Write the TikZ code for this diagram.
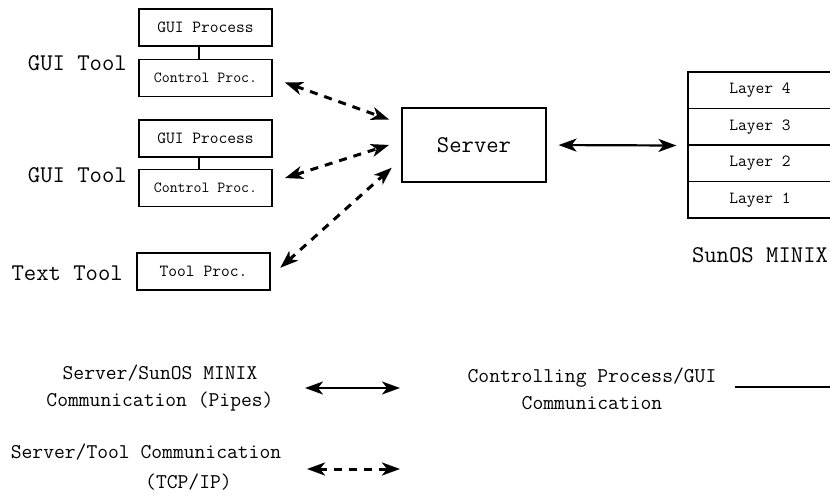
\documentclass[tikz,border=0pt]{standalone}
\usepackage{fontspec}
\usetikzlibrary{arrows.meta}

\tikzset{
  procbox/.style={draw, line width=1.1pt, minimum width=133pt, minimum height=37pt, inner sep=0pt, font=\ttfamily\fontsize{17}{20}\selectfont},
  layerbox/.style={draw, line width=1.1pt, minimum width=144pt, minimum height=36.5pt, inner sep=0pt, font=\ttfamily\fontsize{17}{20}\selectfont},
  toollabel/.style={anchor=east, inner sep=0pt, font=\ttfamily\fontsize{24}{28}\selectfont},
  legend/.style={align=center, inner sep=0pt, font=\ttfamily\fontsize{21}{27}\selectfont},
  tcp/.style={<->, line width=3pt, dash pattern=on 8pt off 7pt, shorten >=13pt, shorten <=13pt},
  pipe/.style={<->, line width=2.2pt},
}

\begin{document}
\begin{tikzpicture}[x=1pt, y=-1pt, >={Stealth[length=18pt,width=13pt,inset=5pt]}]
    \useasboundingbox (0,0) rectangle (830,497);

    % Tools and their processes
    \node[procbox] (gui1) at (205.5,27.5) {GUI Process};
    \node[procbox, font=\ttfamily\fontsize{15.4}{18}\selectfont] (ctl1) at (205.5,78) {Control Proc.};
    \node[procbox] (gui2) at (205.5,138.5) {GUI Process};
    \node[procbox, font=\ttfamily\fontsize{15.4}{18}\selectfont] (ctl2) at (205.5,188) {Control Proc.};
    \node[procbox] (toolp) at (203.5,271.5) {Tool Proc.};
    \draw[line width=1.1pt] ([xshift=-6.5pt]gui1.south) -- ([xshift=-6.5pt]ctl1.north);
    \draw[line width=1.1pt] ([xshift=-6.5pt]gui2.south) -- ([xshift=-6.5pt]ctl2.north);

    \node[toollabel] (lab1) at (127,63) {GUI Tool};
    \node[toollabel] (lab2) at (127,175) {GUI Tool};
    \node[toollabel] (lab3) at (123,273) {Text Tool};

    % Server
    \node[draw, line width=1.1pt, minimum width=144pt, minimum height=74pt, font=\ttfamily\fontsize{24}{28}\selectfont] (server) at (474,145) {Server};

    % SunOS MINIX layers
    \node[layerbox] (layer4) at (760,90.25) {Layer 4};
    \node[layerbox] (layer3) at (760,126.75) {Layer 3};
    \node[layerbox] (layer2) at (760,163.25) {Layer 2};
    \node[layerbox] (layer1) at (760,199.75) {Layer 1};
    \node[font=\ttfamily\fontsize{24}{28}\selectfont] (sunos) at (760,255) {SunOS MINIX};

    % Connections
    \draw[tcp] (ctl1.east) -- ([yshift=21pt]server.west);
    \draw[tcp] ([yshift=6pt]ctl2.east) -- ([yshift=4pt]server.west);
    \draw[tcp] ([yshift=-5pt]toolp.east) -- ([yshift=-14pt]server.west);
    \draw[pipe, shorten >=11pt, shorten <=12pt] (server.east) -- (layer3.south west);

    % Legend
    \node[legend] (legpipe) at (160,388.5) {Server/SunOS MINIX\\Communication (Pipes)};
    \coordinate (pipeA) at (305,388);
    \coordinate (pipeB) at (400,388);
    \draw[pipe] (pipeA) -- (pipeB);

    \node[legend] (legtcp) at (146,452) {Server/Tool Communication};
    \node[legend, anchor=west] (legtcpsub) at (145,482) {(TCP/IP)};
    \coordinate (tcpA) at (307,469);
    \coordinate (tcpB) at (400,469);
    \draw[tcp, shorten >=0pt, shorten <=0pt] (tcpA) -- (tcpB);

    \node[legend] (legctl) at (592,388.5) {Controlling Process/GUI\\Communication};
    \coordinate (ctlA) at (735,387);
    \coordinate (ctlB) at (835,387);
    \draw[line width=2pt] (ctlA) -- (ctlB);
\end{tikzpicture}
\end{document}
